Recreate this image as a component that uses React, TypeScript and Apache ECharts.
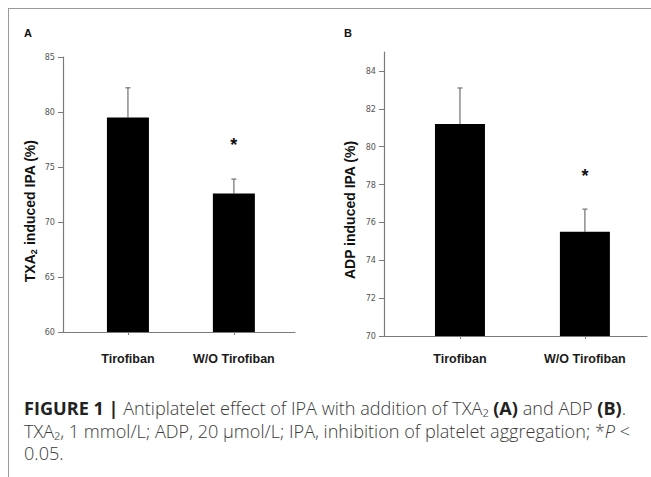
import React, { useEffect, useRef } from "react";
import * as echarts from "echarts";

// ---- data ----
const categories = ["Tirofiban", "W/O Tirofiban"];
const txaMean = [79.5, 72.6];
const txaSD = [2.7, 1.3];
const adpMean = [81.2, 75.5];
const adpSD = [1.9, 1.2];
const txaTicks = [60, 65, 70, 75, 80, 85];
const adpTicks = [70, 72, 74, 76, 78, 80, 82, 84];
const txaStarAt = [1, 77.3];
const adpStarAt = [1, 78.6];

const AXIS_GRAY = "#7a7a7a";
const LABEL_FONT = '"Liberation Sans Narrow", "Arial Narrow", "DejaVu Sans Condensed", sans-serif';
const MAIN_FONT = '"Liberation Sans", Arial, Helvetica, sans-serif';
const CAP_FONT = '"Open Sans", "Liberation Sans", Arial, sans-serif';
const CAP_SIZE = 18.1;
const CAP_LH = 22.5;

export default function App() {
  const ref = useRef<HTMLDivElement>(null);
  useEffect(() => {
    if (!ref.current) return;
    const chart = echarts.init(ref.current, null, { renderer: "svg" });

    const errRender = (params: any, api: any) => {
      const x = api.value(0);
      const m = api.value(1);
      const sd = api.value(2);
      const p0 = api.coord([x, m]);
      const p1 = api.coord([x, m + sd]);
      const style = { stroke: AXIS_GRAY, lineWidth: 1.3 };
      return {
        type: "group",
        children: [
          { type: "line", shape: { x1: p0[0], y1: p0[1], x2: p1[0], y2: p1[1] }, style },
          { type: "line", shape: { x1: p1[0] - 2.5, y1: p1[1], x2: p1[0] + 2.5, y2: p1[1] }, style },
        ],
      };
    };
    const starRender = (params: any, api: any) => {
      const p = api.coord([api.value(0), api.value(1)]);
      return {
        type: "text",
        x: p[0],
        y: p[1] + 3,
        style: {
          text: "*",
          fill: "#111",
          font: `bold 18px ${MAIN_FONT}`,
          align: "center",
          verticalAlign: "middle",
        },
      };
    };

    const xAxisBase = (min: number, max: number, gridIndex: number, margin: number) => ({
      type: "value",
      gridIndex,
      min,
      max,
      splitLine: { show: false },
      axisLine: { show: true, onZero: false, lineStyle: { color: AXIS_GRAY, width: 1.2 } },
      axisTick: { show: true, length: 3, customValues: [0, 1], lineStyle: { color: AXIS_GRAY } },
      axisLabel: {
        show: true,
        customValues: [0, 1],
        formatter: (v: number) => categories[Math.round(v)],
        margin,
        color: "#1a1a1a",
        fontFamily: MAIN_FONT,
        fontWeight: "bold",
        fontSize: 12.5,
      },
    });
    const yAxisBase = (min: number, max: number, interval: number, gridIndex: number, ticks: number[]) => ({
      type: "value",
      gridIndex,
      min,
      max,
      interval,
      splitLine: { show: false },
      axisLine: { show: true, onZero: false, lineStyle: { color: AXIS_GRAY, width: 1.2 } },
      axisTick: { show: true, length: 5, customValues: ticks, lineStyle: { color: AXIS_GRAY } },
      axisLabel: {
        show: true,
        customValues: ticks,
        margin: 8,
        color: "#555",
        fontFamily: LABEL_FONT,
        fontSize: 9,
      },
    });

    const capText = { fontSize: CAP_SIZE, fontFamily: CAP_FONT, fill: "#3a3a3a", fontWeight: 300, lineHeight: CAP_LH };

    const captionText =
      "{b|FIGURE 1 |}{t| Antiplatelet effect of IPA with addition of TXA₂ }{b|(A)}{t| and ADP }{b|(B)}{t|.}\n" +
      "{t|TXA₂, 1 mmol/L; ADP, 20 μmol/L; IPA, inhibition of platelet aggregation; *}{i|P}{t| <}\n" +
      "{t|0.05.}";

    chart.setOption({
      animation: false,
      backgroundColor: "#fff",
      grid: [
        { left: 63, top: 57, width: 232, height: 275 },
        { left: 384, top: 52, width: 263, height: 284 },
      ],
      xAxis: [xAxisBase(-0.613, 1.577, 0, 20), xAxisBase(-0.608, 1.497, 1, 16)],
      yAxis: [yAxisBase(60, 85, 5, 0, txaTicks), yAxisBase(70, 85, 1, 1, adpTicks)],
      series: [
        {
          type: "bar",
          xAxisIndex: 0,
          yAxisIndex: 0,
          barWidth: 42,
          itemStyle: { color: "#000" },
          data: txaMean.map((v, i) => [i, v]),
        },
        {
          type: "custom",
          xAxisIndex: 0,
          yAxisIndex: 0,
          renderItem: errRender,
          data: txaMean.map((v, i) => [i, v, txaSD[i]]),
          z: 1,
        },
        {
          type: "custom",
          xAxisIndex: 0,
          yAxisIndex: 0,
          renderItem: starRender,
          data: [txaStarAt],
        },
        {
          type: "bar",
          xAxisIndex: 1,
          yAxisIndex: 1,
          barWidth: 50,
          itemStyle: { color: "#000" },
          data: adpMean.map((v, i) => [i, v]),
        },
        {
          type: "custom",
          xAxisIndex: 1,
          yAxisIndex: 1,
          renderItem: errRender,
          data: adpMean.map((v, i) => [i, v, adpSD[i]]),
          z: 1,
        },
        {
          type: "custom",
          xAxisIndex: 1,
          yAxisIndex: 1,
          renderItem: starRender,
          data: [adpStarAt],
        },
      ],
      graphic: [
        { type: "line", shape: { x1: 8, y1: 8.5, x2: 651, y2: 8.5 }, style: { stroke: "#999", lineWidth: 1 } },
        { type: "line", shape: { x1: 8.5, y1: 8, x2: 8.5, y2: 477 }, style: { stroke: "#999", lineWidth: 1 } },
        {
          type: "text",
          x: 28,
          y: 33,
          style: { text: "A", font: `bold 11px ${MAIN_FONT}`, fill: "#111", align: "center", verticalAlign: "middle" },
        },
        {
          type: "text",
          x: 348,
          y: 33,
          style: { text: "B", font: `bold 11px ${MAIN_FONT}`, fill: "#111", align: "center", verticalAlign: "middle" },
        },
        {
          type: "text",
          x: 30,
          y: 211,
          rotation: Math.PI / 2,
          style: {
            text: "{a|TXA}{s|2}{a| induced IPA (%)}",
            align: "center",
            verticalAlign: "middle",
            rich: {
              a: { fontSize: 14, fontWeight: "bold", fontFamily: MAIN_FONT, fill: "#111", lineHeight: 16 },
              s: { fontSize: 9, fontWeight: "bold", fontFamily: MAIN_FONT, fill: "#111", verticalAlign: "bottom", lineHeight: 11 },
            },
          },
        },
        {
          type: "text",
          x: 350,
          y: 210,
          rotation: Math.PI / 2,
          style: {
            text: "ADP induced IPA (%)",
            align: "center",
            verticalAlign: "middle",
            font: `bold 14px ${MAIN_FONT}`,
            fill: "#111",
          },
        },
        {
          type: "text",
          x: 24,
          y: 397,
          style: {
            text: captionText,
            verticalAlign: "top",
            rich: {
              t: capText,
              b: { ...capText, fontWeight: "bold", fill: "#222" },
              i: { ...capText, fontStyle: "italic" },
            },
          },
        },
      ],
    });
    return () => chart.dispose();
  }, []);
  return (
    <div
      ref={ref}
      style={{ position: "fixed", left: 0, top: 0, width: 651, height: 477, background: "#fff" }}
    />
  );
}
